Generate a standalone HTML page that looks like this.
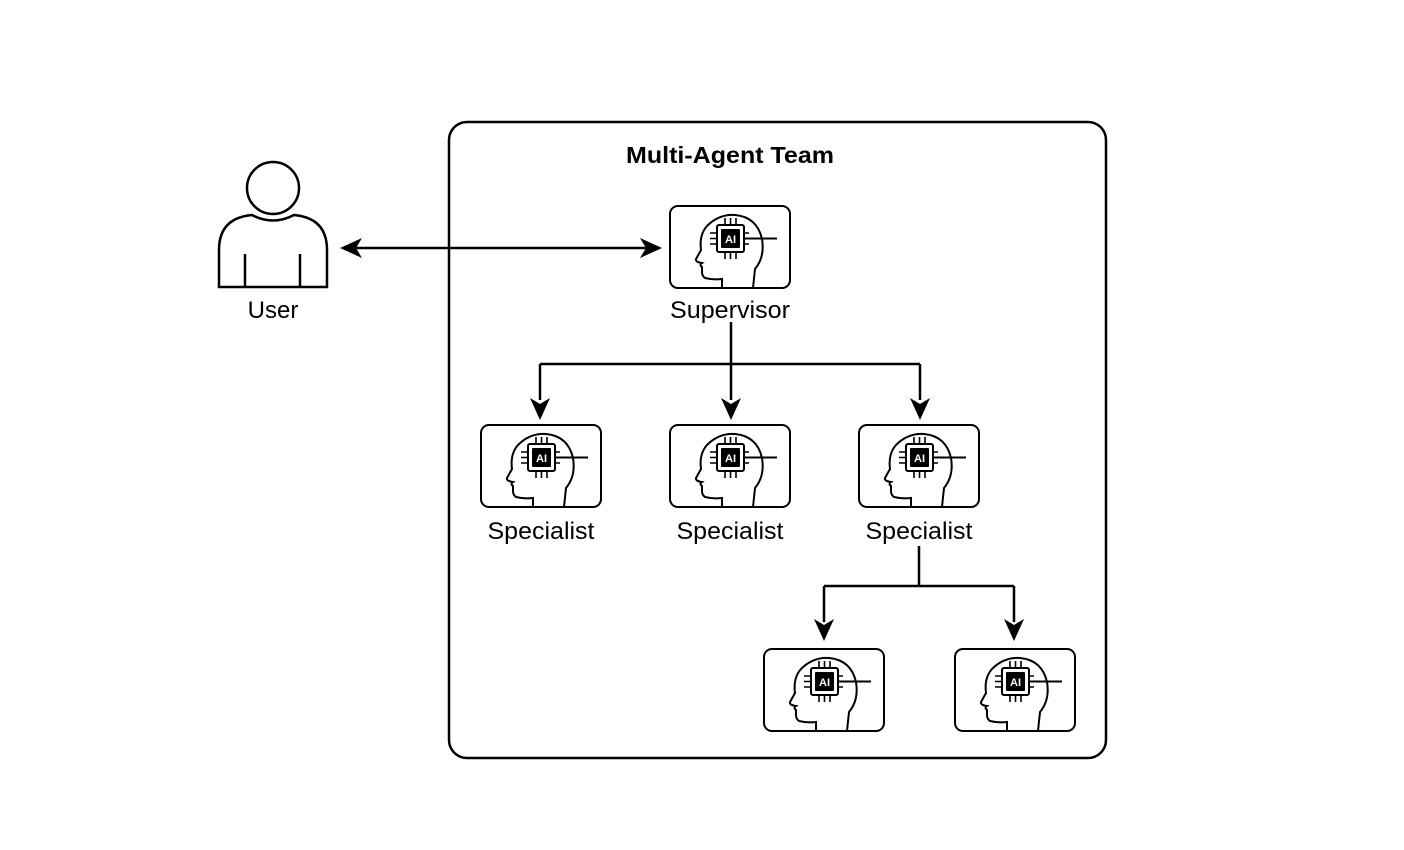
<!DOCTYPE html>
<html><head><meta charset="utf-8"><style>
html,body{margin:0;padding:0;background:#fff;}
svg{display:block;}
</style></head><body>
<svg width="1404" height="850" viewBox="0 0 1404 850" xmlns="http://www.w3.org/2000/svg" font-family="Liberation Sans, Arial, sans-serif">
<defs>
<g id="agent">
  <rect x="1" y="1" width="120" height="82" rx="8" fill="none" stroke="#000" stroke-width="2"/>
  <path d="M53,83 L53,74 Q44,75 36,73 Q33,71 33,67 L33,62 Q30,60 33,58 Q26,57 27,54 L32,45 Q30,30 38,21 Q50,9 66,10 Q88,12 93,34 Q96,52 86,64 L84,83" fill="none" stroke="#000" stroke-width="2"/>
  <rect x="48" y="20" width="27" height="27" rx="2" fill="#fff" stroke="#000" stroke-width="2"/>
  <rect x="52" y="24" width="19" height="19" rx="1" fill="#000"/>
  <text x="61.5" y="38" font-size="11" font-weight="bold" text-anchor="middle" fill="#fff">AI</text>
  <path d="M56,20 v-7 M61.5,20 v-7 M67,20 v-7 M56,47 v7 M61.5,47 v7 M67,47 v7 M48,28 h-7 M48,33.5 h-7 M48,39 h-7 M75,28 h5 M75,39 h5" fill="none" stroke="#000" stroke-width="1.6"/>
  <path d="M75,33.5 H108" fill="none" stroke="#000" stroke-width="2"/>
</g>
</defs>

<rect x="449" y="122" width="657" height="636" rx="18" fill="none" stroke="#000" stroke-width="2.5"/>
<text x="730" y="163" font-size="23" font-weight="bold" text-anchor="middle" fill="#000" textLength="208" lengthAdjust="spacingAndGlyphs">Multi-Agent Team</text>

<g fill="none" stroke="#000" stroke-width="2.5">
  <circle cx="273" cy="188" r="26"/>
  <path d="M219,287 V250 Q219,218 252,215 Q273,226 294,215 Q327,218 327,250 V287 Z"/>
  <path d="M245,254 V287 M300,254 V287"/>
</g>
<text x="273" y="318" font-size="24" text-anchor="middle" fill="#000">User</text>

<g stroke="#000" stroke-width="2.5" fill="none">
  <path d="M355,248 H648"/>
  <path d="M731,322 V400"/>
  <path d="M540,364 H920"/>
  <path d="M540,364 V400 M920,364 V400"/>
  <path d="M919,546 V586 M824,586 H1014 M824,586 V622 M1014,586 V622"/>
</g>
<g fill="#000">
  <polygon points="340,248 362,238 356,248 362,258"/>
  <polygon points="662,248 640,238 646,248 640,258"/>
  <polygon points="540,420 530,398 540,404 550,398"/>
  <polygon points="731,420 721,398 731,404 741,398"/>
  <polygon points="920,420 910,398 920,404 930,398"/>
  <polygon points="824,641 814,619 824,625 834,619"/>
  <polygon points="1014,641 1004,619 1014,625 1024,619"/>
</g>

<use href="#agent" x="669" y="205"/>
<text x="730" y="318" font-size="24" text-anchor="middle" fill="#000" textLength="120" lengthAdjust="spacingAndGlyphs">Supervisor</text>

<use href="#agent" x="480" y="424"/>
<use href="#agent" x="669" y="424"/>
<use href="#agent" x="858" y="424"/>
<text x="541" y="539" font-size="24" text-anchor="middle" fill="#000" textLength="107" lengthAdjust="spacingAndGlyphs">Specialist</text>
<text x="730" y="539" font-size="24" text-anchor="middle" fill="#000" textLength="107" lengthAdjust="spacingAndGlyphs">Specialist</text>
<text x="919" y="539" font-size="24" text-anchor="middle" fill="#000" textLength="107" lengthAdjust="spacingAndGlyphs">Specialist</text>

<use href="#agent" x="763" y="648"/>
<use href="#agent" x="954" y="648"/>
</svg>
</body></html>
